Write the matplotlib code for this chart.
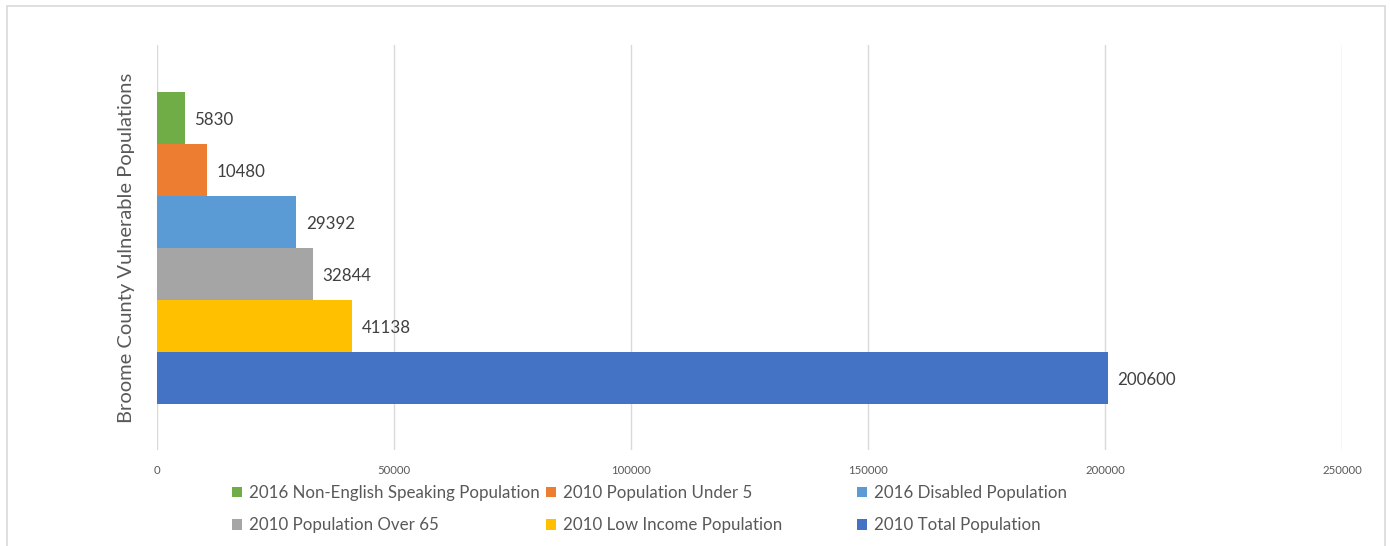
import matplotlib
matplotlib.use("Agg")
import matplotlib.pyplot as plt
from matplotlib.patches import Rectangle, Patch

plt.rcParams['font.family'] = ['Lato', 'DejaVu Sans']

series = ["2016 Non-English Speaking Population", "2010 Population Under 5",
          "2016 Disabled Population", "2010 Population Over 65",
          "2010 Low Income Population", "2010 Total Population"]
values = [5830, 10480, 29392, 32844, 41138, 200600]
colors = ["#70AD47", "#ED7D31", "#5B9BD5", "#A5A5A5", "#FFC000", "#4472C4"]
xticks = [0, 50000, 100000, 150000, 200000, 250000]
ylabel = "Broome County Vulnerable Populations"

W, H = 1390, 546
fig = plt.figure(figsize=(W / 100, H / 100), dpi=100)
fig.patch.set_facecolor("white")
fig.add_artist(Rectangle((7 / W, -0.05), (1385 - 7) / W, 1.05 - 6 / H,
                         transform=fig.transFigure, fill=False,
                         edgecolor="#d9d9d9", linewidth=1.2))

ax = fig.add_axes([157 / W, 1 - 450 / H, (1342 - 157) / W, (450 - 45) / H])
n = len(values)
ypos = [n - 1 - i for i in range(n)]
ax.barh(ypos, values, height=1.0, color=colors, zorder=3)
for y, v in zip(ypos, values):
    ax.annotate(str(v), (v, y), xytext=(7, -1.5), textcoords="offset points",
                va="center", ha="left", fontsize=12.2, color="#404040")

ax.set_xlim(0, 250000)
ax.set_ylim(-0.5 - 46 / 52, n - 0.5 + 47 / 52)
ax.set_xticks(xticks)
ax.set_xticklabels([str(t) for t in xticks])
ax.set_yticks([])
ax.tick_params(axis="x", length=0, labelsize=8.2, labelcolor="#595959", pad=11)
ax.grid(axis="x", color="#d9d9d9", linewidth=1, zorder=0)
for s in ax.spines.values():
    s.set_visible(False)
ax.set_ylabel(ylabel, fontsize=14.5, color="#595959", labelpad=16)

# Legend: three equal-width columns, two rows
col_x = [232, 546, 857]
for c in range(3):
    idx = [c, c + 3]
    handles = [Patch(facecolor=colors[i], edgecolor="none") for i in idx]
    labels = [series[i] for i in idx]
    fig.legend(handles, labels, loc="upper left",
               bbox_to_anchor=(col_x[c] / W, 1 - 485 / H),
               frameon=False, fontsize=12.2, labelcolor="#595959",
               handlelength=0.6, handleheight=0.6, handletextpad=0.4,
               labelspacing=0.95, borderaxespad=0, borderpad=0)

fig.savefig("out.png", dpi=100, facecolor="white")
